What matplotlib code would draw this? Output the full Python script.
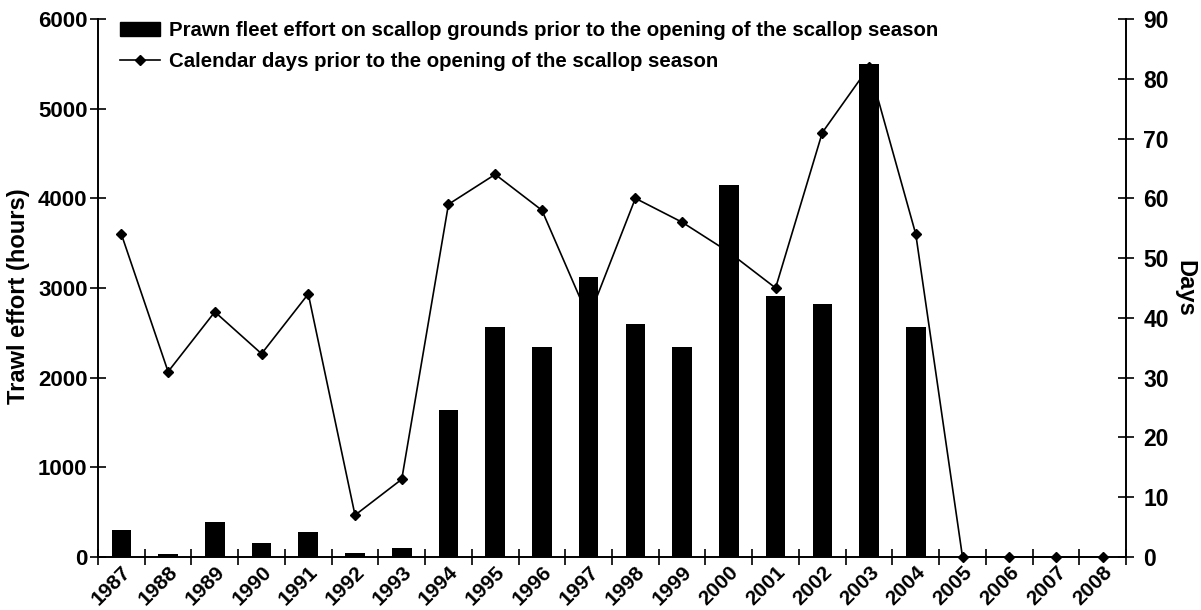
import matplotlib.pyplot as plt
from matplotlib.lines import Line2D
from matplotlib.patches import Patch
import numpy as np

plt.rcParams['font.family'] = ['Liberation Sans', 'DejaVu Sans']
plt.rcParams['font.weight'] = 'bold'

years = ['1987', '1988', '1989', '1990', '1991', '1992', '1993', '1994',
         '1995', '1996', '1997', '1998', '1999', '2000', '2001', '2002',
         '2003', '2004', '2005', '2006', '2007', '2008']
effort_hours = [300, 30, 390, 160, 280, 50, 100, 1640,
                2570, 2340, 3120, 2600, 2340, 4150, 2910, 2825,
                5500, 2570, 0, 0, 0, 0]
days_prior = [54, 31, 41, 34, 44, 7, 13, 59,
              64, 58, 40, 60, 56, 51, 45, 71,
              82, 54, 0, 0, 0, 0]

bar_label = 'Prawn fleet effort on scallop grounds prior to the opening of the scallop season'
line_label = 'Calendar days prior to the opening of the scallop season'

fig = plt.figure(figsize=(12.01, 6.10), dpi=100)
ax = fig.add_axes([0.0816, 0.0869, 0.856, 0.882])
ax2 = ax.twinx()

x = np.arange(len(years))

# days line sits behind the bars
ax2.plot(x, days_prior, color='black', lw=1.2, marker='D', markersize=5,
         clip_on=False, zorder=3)
ax.bar(x, effort_hours, width=0.42, color='black', zorder=3)

ax.set_zorder(ax2.get_zorder() + 1)
ax.patch.set_visible(False)

ax.set_xlim(-0.5, len(years) - 0.5)
ax.set_ylim(0, 6000)
ax2.set_ylim(0, 90)
ax.set_yticks(range(0, 6001, 1000))
ax2.set_yticks(range(0, 91, 10))

ax.set_xticks(x)
ax.set_xticklabels(years, rotation=45, ha='right', rotation_mode='anchor',
                   fontsize=15, fontweight='bold')
ax.set_xticks(np.arange(-0.5, len(years), 1.0), minor=True)
ax.tick_params(axis='x', which='major', length=0, pad=4)
ax.tick_params(axis='x', which='minor', direction='inout', length=11, width=1.2)

ax.tick_params(axis='y', direction='inout', length=11, width=1.2,
               labelsize=16, pad=2)
ax2.tick_params(axis='y', direction='inout', length=11, width=1.2,
                labelsize=16.5, pad=7)
for lab in ax.get_yticklabels() + ax2.get_yticklabels():
    lab.set_fontweight('bold')

for a in (ax, ax2):
    a.spines['top'].set_visible(False)
    for s in ('left', 'right', 'bottom'):
        a.spines[s].set_linewidth(1.2)

ax.set_ylabel('Trawl effort (hours)', fontsize=17, fontweight='bold')
ax.yaxis.set_label_coords(-0.066, 0.485)
ax2.set_ylabel('Days', fontsize=17, fontweight='bold', rotation=270, labelpad=20)

handles = [Patch(facecolor='black', edgecolor='black'),
           Line2D([], [], color='black', lw=1.2, marker='D', markersize=5)]
ax.legend(handles, [bar_label, line_label], loc='upper left',
          bbox_to_anchor=(0.004, 1.03), frameon=False,
          handlelength=1.95, handletextpad=0.45, labelspacing=0.6,
          prop={'weight': 'bold', 'size': 14.7})

fig.savefig('out.png', dpi=100)
